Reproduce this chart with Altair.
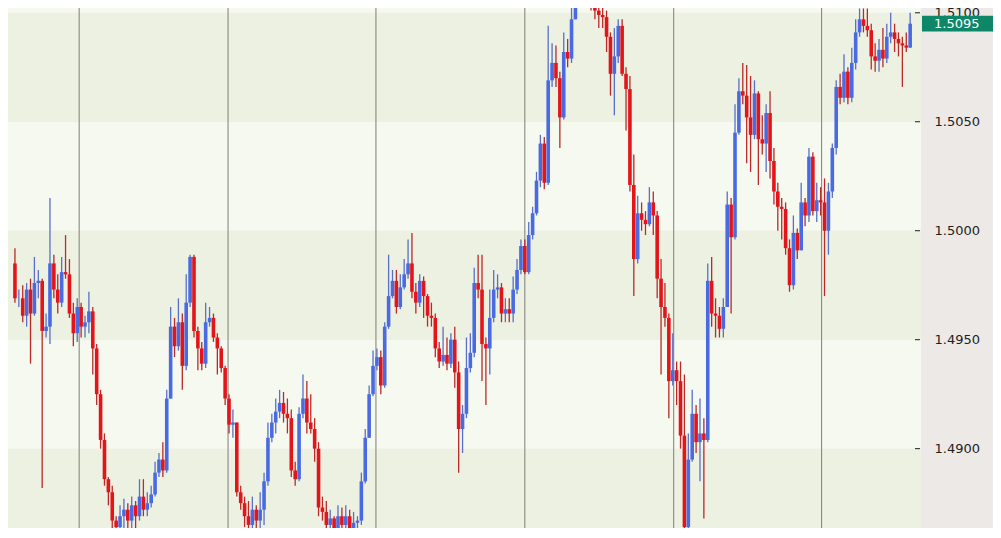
import altair as alt
import pandas as pd

# ---------------- data ----------------
first_open = 1.4985

close = [
    1.4969, 1.4969, 1.4961, 1.4973, 1.4962, 1.4976, 1.4977, 1.4954, 1.4956, 1.4985,
    1.4973, 1.4967, 1.4981, 1.4980, 1.4962, 1.4953, 1.4965, 1.4956, 1.4958, 1.4963,
    1.4946, 1.4925, 1.4904, 1.4886, 1.4880, 1.4867, 1.4864, 1.4869, 1.4872, 1.4867,
    1.4874, 1.4869, 1.4878, 1.4872, 1.4875, 1.4879, 1.4889, 1.4895, 1.4890, 1.4923,
    1.4956, 1.4947, 1.4958, 1.4938, 1.4967, 1.4988, 1.4954, 1.4946, 1.4939, 1.4958,
    1.4960, 1.4951, 1.4946, 1.4937, 1.4923, 1.4911, 1.4912, 1.4880, 1.4875, 1.4869,
    1.4865, 1.4872, 1.4867, 1.4872, 1.4885, 1.4905, 1.4912, 1.4917, 1.4921, 1.4916,
    1.4914, 1.4890, 1.4886, 1.4916, 1.4923, 1.4912, 1.4909, 1.4900, 1.4873, 1.4871,
    1.4865, 1.4868, 1.4863, 1.4869, 1.4865, 1.4869, 1.4863, 1.4866, 1.4867, 1.4885,
    1.4905, 1.4925, 1.4938, 1.4942, 1.4929, 1.4956, 1.4970, 1.4977, 1.4965, 1.4974,
    1.4980, 1.4985, 1.4972, 1.4967, 1.4977, 1.4970, 1.4961, 1.4960, 1.4946, 1.4940,
    1.4943, 1.4939, 1.4950, 1.4935, 1.4909, 1.4916, 1.4937, 1.4944, 1.4976, 1.4973,
    1.4948, 1.4946, 1.4960, 1.4973, 1.4974, 1.4962, 1.4964, 1.4962, 1.4973, 1.4982,
    1.4993, 1.4981, 1.4998, 1.5008, 1.5023, 1.5040, 1.5022, 1.5069, 1.5077, 1.5070,
    1.5052, 1.5082, 1.5079, 1.5097, 1.5108, 1.5111, 1.5113, 1.5108, 1.5104, 1.5101,
    1.5099, 1.5098, 1.5089, 1.5072, 1.5080, 1.5094, 1.5072, 1.5065, 1.5021, 1.4987,
    1.5008, 1.5005, 1.5003, 1.5013, 1.5007, 1.4978, 1.4965, 1.4960, 1.4931, 1.4936,
    1.4931, 1.4906, 1.4864, 1.4895, 1.4916, 1.4903, 1.4907, 1.4904, 1.4977, 1.4962,
    1.4961, 1.4955, 1.4965, 1.5012, 1.4997, 1.5045, 1.5064, 1.5062, 1.5052, 1.5044,
    1.5063, 1.5042, 1.5040, 1.5054, 1.5032, 1.5018, 1.5011, 1.5010, 1.4992, 1.4975,
    1.4999, 1.4991, 1.5013, 1.5007, 1.5034, 1.5009, 1.5014, 1.5013, 1.5000, 1.5018,
    1.5038, 1.5066, 1.5061, 1.5073, 1.5061, 1.5077, 1.5091, 1.5097, 1.5094, 1.5092,
    1.5080, 1.5078, 1.5083, 1.5079, 1.5089, 1.5091, 1.5088, 1.5086, 1.5085, 1.5084,
    1.5095,
]

high = [
    1.4992, 1.4973, 1.4975, 1.4976, 1.4978, 1.4988, 1.4982, 1.4978, 1.4962, 1.5015,
    1.4989, 1.4980, 1.4988, 1.4998, 1.4987, 1.4967, 1.4969, 1.4967, 1.4961, 1.4972,
    1.4965, 1.4948, 1.4927, 1.4907, 1.4887, 1.4883, 1.4869, 1.4874, 1.4877, 1.4875,
    1.4878, 1.4876, 1.4886, 1.4886, 1.4880, 1.4883, 1.4894, 1.4898, 1.4903, 1.4927,
    1.4965, 1.4960, 1.4969, 1.4962, 1.4980, 1.4989, 1.4989, 1.4956, 1.4949, 1.4967,
    1.4965, 1.4962, 1.4953, 1.4947, 1.4938, 1.4925, 1.4918, 1.4912, 1.4883, 1.4878,
    1.4876, 1.4878, 1.4874, 1.4880, 1.4889, 1.4912, 1.4916, 1.4923, 1.4927, 1.4926,
    1.4923, 1.4918, 1.4894, 1.4919, 1.4934, 1.4931, 1.4925, 1.4914, 1.4903, 1.4878,
    1.4876, 1.4872, 1.4869, 1.4874, 1.4873, 1.4874, 1.4872, 1.4871, 1.4869, 1.4889,
    1.4909, 1.4929, 1.4945, 1.4946, 1.4945, 1.4958, 1.4989, 1.4982, 1.4982, 1.4980,
    1.4987, 1.4996, 1.4999, 1.4976, 1.4980, 1.4979, 1.4971, 1.4967, 1.4962, 1.4949,
    1.4956, 1.4951, 1.4953, 1.4956, 1.4940, 1.4920, 1.4951, 1.4953, 1.4983, 1.4989,
    1.4989, 1.4951, 1.4973, 1.4982, 1.4980, 1.4976, 1.4969, 1.4969, 1.4979, 1.4987,
    1.4996, 1.4996, 1.5004, 1.5011, 1.5027, 1.5044, 1.5043, 1.5094, 1.5086, 1.5085,
    1.5073, 1.5091, 1.5088, 1.5106, 1.5113, 1.5115, 1.5117, 1.5115, 1.5111, 1.5106,
    1.5106, 1.5104, 1.5101, 1.5091, 1.5093, 1.5097, 1.5097, 1.5075, 1.5071, 1.5035,
    1.5016, 1.5013, 1.5009, 1.5020, 1.5018, 1.5009, 1.4987, 1.4976, 1.4962, 1.4953,
    1.4940, 1.4940, 1.4934, 1.4907, 1.4927, 1.4920, 1.4923, 1.4914, 1.4985, 1.4988,
    1.4969, 1.4965, 1.4969, 1.5018, 1.5015, 1.5058, 1.5070, 1.5077, 1.5076, 1.5071,
    1.5069, 1.5064, 1.5053, 1.5058, 1.5064, 1.5038, 1.5022, 1.5015, 1.5013, 1.4996,
    1.5007, 1.5001, 1.5022, 1.5015, 1.5038, 1.5036, 1.5022, 1.5020, 1.5024, 1.5022,
    1.5040, 1.5069, 1.5072, 1.5081, 1.5075, 1.5084, 1.5097, 1.5102, 1.5102, 1.5102,
    1.5095, 1.5086, 1.5088, 1.5093, 1.5095, 1.5100, 1.5095, 1.5091, 1.5089, 1.5091,
    1.5100,
]

low = [
    1.4967, 1.4965, 1.4958, 1.4956, 1.4939, 1.4961, 1.4969, 1.4882, 1.4951, 1.4948,
    1.4969, 1.4962, 1.4965, 1.4978, 1.4960, 1.4947, 1.4949, 1.4951, 1.4951, 1.4953,
    1.4934, 1.4920, 1.4900, 1.4883, 1.4874, 1.4863, 1.4861, 1.4861, 1.4863, 1.4861,
    1.4863, 1.4863, 1.4867, 1.4869, 1.4869, 1.4873, 1.4878, 1.4887, 1.4887, 1.4889,
    1.4923, 1.4942, 1.4945, 1.4927, 1.4936, 1.4965, 1.4951, 1.4936, 1.4936, 1.4937,
    1.4956, 1.4949, 1.4934, 1.4935, 1.4920, 1.4907, 1.4905, 1.4878, 1.4872, 1.4864,
    1.4861, 1.4861, 1.4861, 1.4863, 1.4865, 1.4883, 1.4903, 1.4907, 1.4914, 1.4912,
    1.4907, 1.4887, 1.4883, 1.4885, 1.4914, 1.4907, 1.4907, 1.4894, 1.4869, 1.4867,
    1.4861, 1.4861, 1.4859, 1.4861, 1.4859, 1.4861, 1.4859, 1.4861, 1.4861, 1.4865,
    1.4884, 1.4905, 1.4924, 1.4936, 1.4925, 1.4928, 1.4955, 1.4969, 1.4962, 1.4964,
    1.4973, 1.4978, 1.4969, 1.4962, 1.4965, 1.4960, 1.4956, 1.4956, 1.4942, 1.4937,
    1.4938, 1.4936, 1.4937, 1.4928, 1.4889, 1.4898, 1.4914, 1.4935, 1.4942, 1.4969,
    1.4931, 1.4920, 1.4934, 1.4958, 1.4969, 1.4958, 1.4958, 1.4958, 1.4958, 1.4971,
    1.4980, 1.4980, 1.4980, 1.4996, 1.5007, 1.5020, 1.5019, 1.5021, 1.5066, 1.5066,
    1.5038, 1.5051, 1.5075, 1.5077, 1.5097, 1.5104, 1.5106, 1.5104, 1.5101, 1.5097,
    1.5093, 1.5093, 1.5082, 1.5062, 1.5053, 1.5077, 1.5071, 1.5046, 1.5018, 1.4970,
    1.4985, 1.5000, 1.4998, 1.5002, 1.4998, 1.4969, 1.4934, 1.4956, 1.4914, 1.4929,
    1.4920, 1.4900, 1.4861, 1.4861, 1.4894, 1.4898, 1.4885, 1.4868, 1.4903, 1.4956,
    1.4951, 1.4951, 1.4951, 1.4965, 1.4962, 1.4996, 1.5044, 1.5058, 1.5031, 1.5027,
    1.5042, 1.5021, 1.5035, 1.5027, 1.5024, 1.5012, 1.5000, 1.4996, 1.4989, 1.4972,
    1.4973, 1.4987, 1.4991, 1.5002, 1.5004, 1.5007, 1.5004, 1.5007, 1.4970, 1.4989,
    1.5015, 1.5035, 1.5058, 1.5059, 1.5058, 1.5059, 1.5074, 1.5089, 1.5091, 1.5089,
    1.5074, 1.5073, 1.5073, 1.5075, 1.5077, 1.5086, 1.5082, 1.5080, 1.5066, 1.5082,
    1.5084,
]

session_breaks = [16.5, 54.75, 92.75, 131.0, 169.25, 207.25]   # candle index of day separators
tick_values = [1.4900, 1.4950, 1.5000, 1.5050, 1.5100]
band_lo = [1.4800, 1.4900, 1.4950, 1.5000, 1.5050, 1.5100]
band_hi = [1.4900, 1.4950, 1.5000, 1.5050, 1.5100, 1.5200]
band_kind = ["dark", "light", "dark", "light", "dark", "light"]
last_price = [1.5095]

# ---------------- layout / style ----------------
W, H = 913, 520
Y_DOMAIN = [1.48636, 1.51022]
X_DOMAIN = [-0.5, 231.5]
BLUE, RED = "#4A6AE2", "#E3151B"
BLUE_WICK, RED_WICK = "#5870C8", "#B92A28"
FONT = "DejaVu Sans"

opens = [first_open] + close[:-1]
df = pd.DataFrame({
    "i": list(range(len(close))),
    "open": opens,
    "close": close,
    "high": high,
    "low": low,
})
df["dir"] = ["up" if c >= o else "down" for o, c in zip(opens, close)]

bands_df = pd.DataFrame({"lo": band_lo, "hi": band_hi, "kind": band_kind})
breaks_df = pd.DataFrame({"b": session_breaks})
ticks_df = pd.DataFrame({"v": tick_values})
marker_df = pd.DataFrame({"p": last_price})
marker_df["top"] = marker_df["p"] + 0.00036
marker_df["bot"] = marker_df["p"] - 0.00036
marker_df["label"] = [f"{v:.4f}" for v in last_price]

ys = alt.Scale(domain=Y_DOMAIN, nice=False, zero=False)
xs = alt.Scale(domain=X_DOMAIN, nice=False, zero=False)
yaxis = alt.Axis(orient="right", values=tick_values, format=".4f", tickSize=0,
                 labelPadding=13, domain=False, grid=False, labelFont=FONT,
                 labelFontSize=13, labelColor="#1E1E1E", title=None,
                 labelOverlap=False, labelFlush=False)

bands = alt.Chart(bands_df).mark_rect(clip=True).encode(
    x=alt.value(0), x2=alt.value(W),
    y=alt.Y("lo:Q", scale=ys, axis=yaxis), y2="hi:Q",
    color=alt.Color("kind:N", scale=alt.Scale(domain=["dark", "light"],
                                              range=["#EDF1E1", "#F6F9EF"]), legend=None),
)

breaks = alt.Chart(breaks_df).mark_rule(color="#7E7E78", strokeWidth=1).encode(
    x=alt.X("b:Q", scale=xs, axis=None),
    y=alt.value(0), y2=alt.value(H),
)

wicks = alt.Chart(df).mark_rule(strokeWidth=1.3, clip=True).encode(
    x=alt.X("i:Q", scale=xs, axis=None),
    y=alt.Y("low:Q", scale=ys, axis=yaxis), y2="high:Q",
    color=alt.Color("dir:N", scale=alt.Scale(domain=["up", "down"],
                                             range=[BLUE_WICK, RED_WICK]), legend=None),
)

bodies = alt.Chart(df).mark_bar(size=3.6, clip=True).encode(
    x=alt.X("i:Q", scale=xs, axis=None),
    y=alt.Y("open:Q", scale=ys, axis=yaxis), y2="close:Q",
    color=alt.Color("dir:N", scale=alt.Scale(domain=["up", "down"],
                                             range=[BLUE, RED]), legend=None),
)

ticks = alt.Chart(ticks_df).mark_rule(color="#1E1E1E", strokeWidth=1).encode(
    y=alt.Y("v:Q", scale=ys, axis=yaxis),
    x=alt.value(W - 6), x2=alt.value(W - 1),
)

marker_box = alt.Chart(marker_df).mark_rect(color="#0E8768").encode(
    y=alt.Y("top:Q", scale=ys, axis=yaxis), y2="bot:Q",
    x=alt.value(W + 1), x2=alt.value(W + 72),
)

marker_text = alt.Chart(marker_df).mark_text(color="#FFFFFF", font=FONT, fontSize=13,
                                             align="left", baseline="middle").encode(
    y=alt.Y("p:Q", scale=ys, axis=yaxis),
    x=alt.value(W + 13),
    text="label:N",
)

chart = alt.layer(bands, breaks, wicks, bodies, ticks, marker_box, marker_text).resolve_scale(
    color="independent"
).properties(
    width=W, height=H,
    padding={"left": 0, "top": 0, "right": 72, "bottom": 0},
    autosize=alt.AutoSizeParams(type="none"),
    background="#ECE9E6",
).configure_view(strokeWidth=0)

chart.save("out.html", embed_options={"renderer": "svg", "actions": False})
